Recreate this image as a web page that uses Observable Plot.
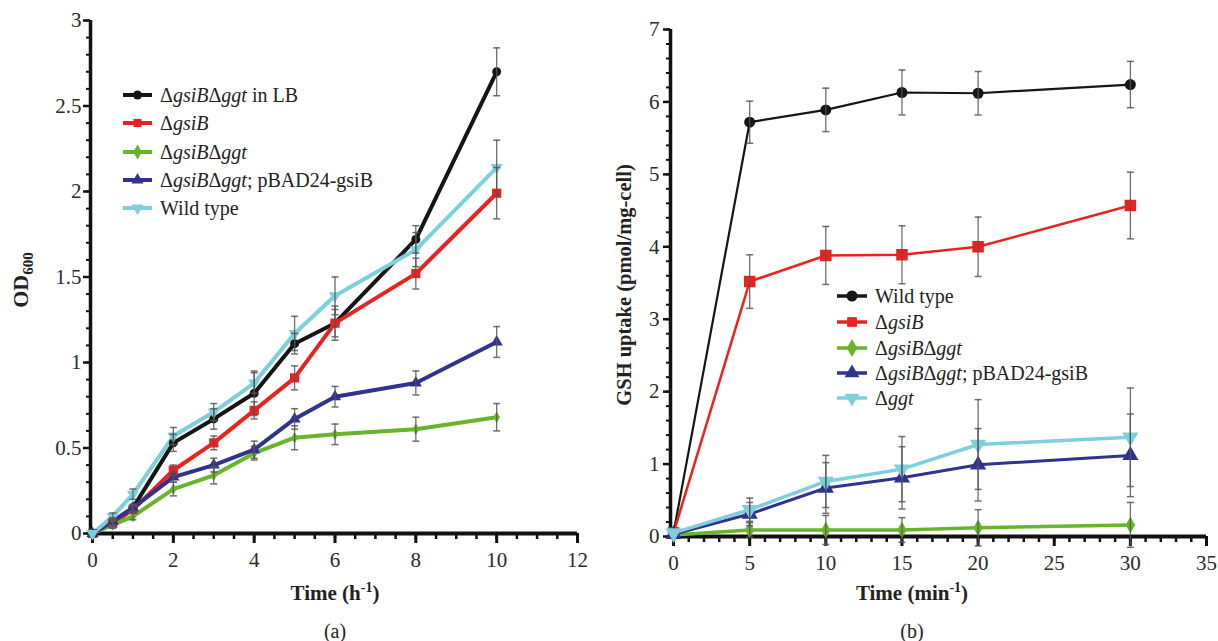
<!DOCTYPE html>
<html><head><meta charset="utf-8">
<script src="https://cdn.jsdelivr.net/npm/d3@7"></script>
<script src="https://cdn.jsdelivr.net/npm/@observablehq/plot@0.6"></script>
<style>
body{margin:0;background:#fff;}
#wrap{display:flex;width:1218px;height:641px;overflow:hidden;}
svg{display:block;}
</style></head><body><div id="wrap"></div>
<script>
// ---------- Panel (a): growth, OD600 vs time (h) ----------
const timeA = [0, 0.5, 1, 2, 3, 4, 5, 6, 8, 10];
const namesA = ["ΔgsiBΔggt in LB", "ΔgsiB", "ΔgsiBΔggt", "ΔgsiBΔggt; pBAD24-gsiB", "Wild type"];
const odLB     = [0, 0.07, 0.15, 0.53, 0.67, 0.82, 1.11, 1.23, 1.72, 2.70];
const odGsiB   = [0, 0.06, 0.14, 0.37, 0.53, 0.72, 0.91, 1.23, 1.52, 1.99];
const odDouble = [0, 0.05, 0.10, 0.26, 0.34, 0.47, 0.56, 0.58, 0.61, 0.68];
const odComp   = [0, 0.07, 0.15, 0.33, 0.40, 0.49, 0.67, 0.80, 0.88, 1.12];
const odWT     = [0, 0.10, 0.23, 0.57, 0.71, 0.88, 1.17, 1.39, 1.66, 2.14];
const errLB     = [0, 0.02, 0.02, 0.05, 0.06, 0.13, 0.06, 0.08, 0.08, 0.14];
const errGsiB   = [0, 0.02, 0.02, 0.03, 0.04, 0.05, 0.07, 0.10, 0.09, 0.15];
const errDouble = [0, 0.02, 0.02, 0.04, 0.05, 0.04, 0.07, 0.06, 0.07, 0.08];
const errComp   = [0, 0.02, 0.02, 0.03, 0.04, 0.05, 0.06, 0.06, 0.07, 0.09];
const errWT     = [0, 0.02, 0.03, 0.05, 0.05, 0.06, 0.10, 0.11, 0.10, 0.16];
const xTicksA = [0, 2, 4, 6, 8, 10, 12];
const yTicksA = [0, 0.5, 1, 1.5, 2, 2.5, 3];

// ---------- Panel (b): GSH uptake vs time (min) ----------
const timeB = [0, 5, 10, 15, 20, 30];
const namesB = ["Wild type", "ΔgsiB", "ΔgsiBΔggt", "ΔgsiBΔggt; pBAD24-gsiB", "Δggt"];
const gshWT     = [0.05, 5.72, 5.89, 6.13, 6.12, 6.24];
const gshGsiB   = [0.05, 3.52, 3.88, 3.89, 4.00, 4.57];
const gshDouble = [0.02, 0.09, 0.09, 0.09, 0.12, 0.16];
const gshComp   = [0.03, 0.31, 0.67, 0.81, 0.99, 1.12];
const gshGgt    = [0.05, 0.37, 0.76, 0.93, 1.27, 1.37];
const errBWT     = [0, 0.29, 0.30, 0.31, 0.30, 0.32];
const errBGsiB   = [0, 0.37, 0.40, 0.40, 0.41, 0.46];
const errBDouble = [0, 0.10, 0.20, 0.17, 0.25, 0.31];
const errBComp   = [0, 0.16, 0.35, 0.43, 0.50, 0.57];
const errBGgt    = [0, 0.16, 0.36, 0.45, 0.62, 0.68];
const xTicksB = [0, 5, 10, 15, 20, 25, 30, 35];
const yTicksB = [0, 1, 2, 3, 4, 5, 6, 7];

// ---------- styles ----------
const C = {black:"#151515", red:"#e8231f", green:"#68b52c", blue:"#30328f", cyan:"#7dcfdc"};
const FONT = "'Liberation Serif','Times New Roman',serif";
const capSym = {draw(ctx, size){ const r = Math.sqrt(size/Math.PI); ctx.moveTo(-r,0); ctx.lineTo(r,0); }};

function rows(time, values, err){ return time.map((t,i)=>({t, v:values[i], e:err[i]})); }

function makePanel(cfg){
  const marks = [];
  marks.push(Plot.axisY(cfg.yMinor, {tickSize:4, tickFormat:()=>"", strokeWidth:2, stroke:"#111", label:null}));
  marks.push(Plot.axisY(cfg.yMajor, {tickSize:7, tickPadding:cfg.yPad, tickFormat:d=>String(d), fontSize:21, fontFamily:FONT, strokeWidth:2.5, stroke:"#111", fill:"#2a2a2a", label:null}));
  marks.push(Plot.axisX(cfg.xMinor, {tickSize:6, tickFormat:()=>"", strokeWidth:2.5, stroke:"#111", label:null}));
  marks.push(Plot.axisX(cfg.xMajor, {tickSize:10, tickPadding:9, tickFormat:d=>String(d), fontSize:21, fontFamily:FONT, strokeWidth:3, stroke:"#111", fill:"#2a2a2a", label:null}));
  marks.push(Plot.ruleY([cfg.yDomain[0]], {stroke:"#111", strokeWidth:4}));
  marks.push(Plot.ruleX([cfg.xDomain[0]], {stroke:"#111", strokeWidth:3.5}));
  for (const s of cfg.series) {
    marks.push(Plot.line(rows(cfg.time, s.values, s.err), {x:"t", y:"v", stroke:s.color, strokeWidth:s.sw, strokeLinejoin:"round"}));
  }
  for (const s of cfg.series) {
    marks.push(Plot.dot(rows(cfg.time, s.values, s.err), {x:"t", y:"v", symbol:s.symbol, r:s.r, fill:s.color, stroke:"none", rotate:s.rotate || 0}));
  }
  for (const s of cfg.series) {
    const d = rows(cfg.time, s.values, s.err).filter(r=>r.e>0);
    marks.push(Plot.ruleX(d, {x:"t", y1:r=>r.v-r.e, y2:r=>r.v+r.e, stroke:"#555", strokeWidth:1.3, strokeOpacity:0.85}));
    marks.push(Plot.dot(d, {x:"t", y:r=>r.v+r.e, symbol:capSym, r:3.5, stroke:"#555", fill:"none", strokeWidth:1.5, strokeOpacity:0.85}));
    marks.push(Plot.dot(d, {x:"t", y:r=>r.v-r.e, symbol:capSym, r:3.5, stroke:"#555", fill:"none", strokeWidth:1.5, strokeOpacity:0.85}));
  }
  const svg = Plot.plot({
    width: 609, height: 641,
    marginLeft: cfg.margin[3], marginRight: cfg.margin[1], marginTop: cfg.margin[0], marginBottom: cfg.margin[2],
    x: {domain: cfg.xDomain, label:null},
    y: {domain: cfg.yDomain, label:null},
    style: {fontFamily: FONT, fontSize:"20px", color:"#222", background:"white", overflow:"visible"},
    marks
  });
  svg.setAttribute("font-family", FONT);
  const g = d3.select(svg);
  // legend
  const L = cfg.legend;
  cfg.series.forEach((s, i) => {
    const y = L.rows[i];
    g.append("line").attr("x1", L.x0).attr("x2", L.x1).attr("y1", y).attr("y2", y)
      .attr("stroke", s.color).attr("stroke-width", L.sw);
    const type = {circle:d3.symbolCircle, square:d3.symbolSquare, diamond:d3.symbolDiamond, triangle:d3.symbolTriangle}[s.symbol];
    g.append("path").attr("d", d3.symbol(type, Math.PI*L.r*L.r)())
      .attr("transform", `translate(${(L.x0+L.x1)/2},${y}) rotate(${s.rotate||0})`)
      .attr("fill", s.color);
    const t = g.append("text").attr("x", L.tx).attr("y", y).attr("dy", "0.34em")
      .attr("text-anchor", "start")
      .attr("font-family", FONT).attr("font-size", 20).attr("fill", "#222");
    s.name.split(/(?<=Δ)(gsiB|ggt)/).forEach((p, k) => {
      if (!p) return;
      const ts = t.append("tspan").text(p);
      if (k % 2 === 1) ts.attr("font-style", "italic");
    });
  });
  // x-axis title with superscript
  const xt = g.append("text").attr("x", cfg.xTitle[0]).attr("y", cfg.xTitle[1]).attr("text-anchor", "middle")
    .attr("font-family", FONT).attr("font-weight", "bold").attr("font-size", 21).attr("fill", "#222");
  xt.append("tspan").text(cfg.xTitleText);
  xt.append("tspan").text("-1").attr("font-size", 14).attr("dy", "-0.6em");
  xt.append("tspan").text(")").attr("dy", "0.42em");
  // y-axis title
  const yt = g.append("text").attr("transform", `translate(${cfg.yTitle[0]},${cfg.yTitle[1]}) rotate(-90)`)
    .attr("text-anchor", "middle").attr("font-family", FONT).attr("font-weight", "bold").attr("font-size", cfg.yTitleSize).attr("fill", "#222");
  cfg.yTitleParts.forEach(([txt, sub]) => {
    const ts = yt.append("tspan").text(txt);
    if (sub) ts.attr("font-size", 15).attr("dy", "0.35em");
  });
  // caption
  g.append("text").attr("x", cfg.caption[0]).attr("y", cfg.caption[1]).attr("text-anchor", "middle")
    .attr("font-family", FONT).attr("font-size", 20).attr("fill", "#222").text(cfg.captionText);
  return svg;
}

const seriesA = [
  {name:namesA[0], values:odLB,     err:errLB,     color:C.black, symbol:"circle",   r:4.5, sw:4},
  {name:namesA[1], values:odGsiB,   err:errGsiB,   color:C.red,   symbol:"square",   r:5.2, sw:4},
  {name:namesA[2], values:odDouble, err:errDouble, color:C.green, symbol:"diamond",  r:3.5, sw:4},
  {name:namesA[3], values:odComp,   err:errComp,   color:C.blue,  symbol:"triangle", r:4.5, sw:4},
  {name:namesA[4], values:odWT,     err:errWT,     color:C.cyan,  symbol:"triangle", r:4.5, sw:4, rotate:180}
];
const seriesB = [
  {name:namesB[0], values:gshWT,     err:errBWT,     color:C.black, symbol:"circle",   r:5.5, sw:2.2},
  {name:namesB[1], values:gshGsiB,   err:errBGsiB,   color:C.red,   symbol:"square",   r:6.5, sw:2.5},
  {name:namesB[2], values:gshDouble, err:errBDouble, color:C.green, symbol:"diamond",  r:5,   sw:3.5},
  {name:namesB[3], values:gshComp,   err:errBComp,   color:C.blue,  symbol:"triangle", r:6,   sw:3},
  {name:namesB[4], values:gshGgt,    err:errBGgt,    color:C.cyan,  symbol:"triangle", r:6,   sw:3.5, rotate:180}
];

const panelA = makePanel({
  time: timeA, series: seriesA,
  xDomain: [-0.05, 12], yDomain: [0, 3],
  margin: [20, 32, 108, 90],
  xMajor: xTicksA, xMinor: d3.range(0, 12.01, 0.5),
  yMajor: yTicksA, yMinor: d3.range(0, 3.001, 0.1),
  yPad: 2,
  legend: {x0:123, x1:152, tx:160, rows:[95, 123, 152, 180, 208], sw:4, r:4.5},
  xTitle: [335, 600], xTitleText: "Time (h",
  yTitle: [28, 280], yTitleSize: 22, yTitleParts: [["OD"], ["600", true]],
  caption: [335, 638], captionText: "(a)"
});
const panelB = makePanel({
  time: timeB, series: seriesB,
  xDomain: [-0.2, 35], yDomain: [0, 7],
  margin: [29, 12, 105, 61],
  xMajor: xTicksB, xMinor: d3.range(0, 35.01, 1),
  yMajor: yTicksB, yMinor: d3.range(0, 7.001, 0.2),
  yPad: 4,
  legend: {x0:228, x1:258, tx:266, rows:[296, 322, 348, 373, 398], sw:3.5, r:5.5},
  xTitle: [303, 600], xTitleText: "Time (min",
  yTitle: [22, 285], yTitleSize: 20.5, yTitleParts: [["GSH uptake (pmol/mg-cell)"]],
  caption: [303, 638], captionText: "(b)"
});
document.getElementById("wrap").append(panelA, panelB);
</script>
</body></html>
